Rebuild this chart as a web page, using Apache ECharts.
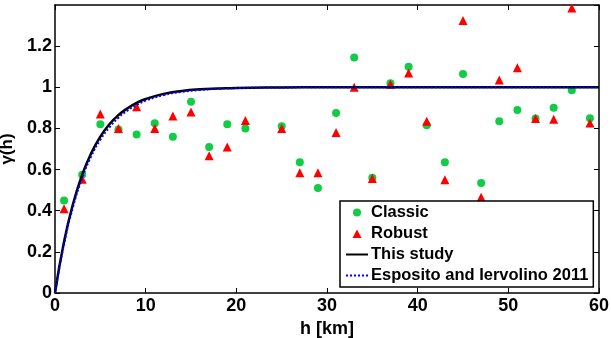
<!DOCTYPE html>
<html>
<head>
<meta charset="utf-8">
<script src="https://cdn.jsdelivr.net/npm/echarts@6/dist/echarts.min.js"></script>
<style>
  html, body { margin: 0; padding: 0; background: #fff; }
  #chart { width: 611px; height: 338px; }
</style>
</head>
<body>
<div id="chart"></div>
<script>
// lag distances of the empirical points
const lags = [1, 3, 5, 7, 9, 11, 13, 15, 17, 19, 21, 25, 27, 29, 31, 33, 35, 37, 39, 41, 43, 45, 47, 49, 51, 53, 55, 57, 59];
const classic = [0.45, 0.575, 0.82, 0.795, 0.77, 0.825, 0.76, 0.93, 0.71, 0.82, 0.80, 0.81, 0.635, 0.51, 0.875, 1.145, 0.56, 1.02, 1.10, 0.815, 0.635, 1.065, 0.535, 0.835, 0.89, 0.848, 0.90, 0.985, 0.85];
const robust = [0.41, 0.553, 0.87, 0.80, 0.905, 0.80, 0.86, 0.88, 0.667, 0.71, 0.838, 0.80, 0.585, 0.585, 0.78, 1.0, 0.556, 1.015, 1.07, 0.835, 0.55, 1.325, 0.466, 1.035, 1.095, 0.848, 0.845, 1.385, 0.826];

// model curves
const curveH = [0, 1, 2, 3, 4, 5, 6, 7, 8, 9, 10, 12, 14, 16, 18, 20, 25, 30, 40, 50, 60];
const thisStudy = [0, 0.25, 0.435, 0.575, 0.68, 0.76, 0.82, 0.865, 0.898, 0.924, 0.943, 0.968, 0.982, 0.99, 0.994, 0.997, 0.999, 1, 1, 1, 1];
const esposito = [0, 0.239, 0.42, 0.559, 0.665, 0.745, 0.805, 0.852, 0.887, 0.914, 0.935, 0.962, 0.978, 0.987, 0.993, 0.996, 0.999, 1, 1, 1, 1];

const font = "Liberation Sans, Arial, sans-serif";
const pair = (xs, ys) => xs.map((x, i) => [x, ys[i]]);

const chart = echarts.init(document.getElementById("chart"));

const axisLine = { show: true, onZero: false, lineStyle: { color: "#000", width: 1.5 } };
const tick = { show: true, inside: true, length: 5, lineStyle: { color: "#000", width: 1 } };
const label = { color: "#000", fontFamily: font, fontWeight: "bold", fontSize: 18 };

chart.setOption({
  animation: false,
  grid: { left: 55, right: 12, top: 5, bottom: 45, outerBoundsMode: "none", containLabel: false },
  xAxis: [
    {
      type: "value", min: 0, max: 60, interval: 10,
      name: "h [km]", nameLocation: "middle", nameGap: 21,
      nameTextStyle: label,
      axisLine, axisTick: tick, splitLine: { show: false },
      axisLabel: Object.assign({ margin: 4 }, label)
    },
    {
      type: "value", position: "top", min: 0, max: 60, interval: 10,
      axisLine, axisTick: tick, splitLine: { show: false },
      axisLabel: { show: false }
    }
  ],
  yAxis: [
    {
      type: "value", min: 0, max: 1.4, interval: 0.2,
      name: "γ(h)", nameLocation: "middle", nameGap: 31,
      nameTextStyle: Object.assign({}, label, { fontSize: 17 }),
      axisLine, axisTick: tick, splitLine: { show: false },
      axisLabel: Object.assign({ margin: 3, showMaxLabel: false }, label)
    },
    {
      type: "value", position: "right", min: 0, max: 1.4, interval: 0.2,
      axisLine, axisTick: tick, splitLine: { show: false },
      axisLabel: { show: false }
    }
  ],
  legend: {
    orient: "vertical",
    left: 340, top: 201,
    padding: [3, 5, 3, 5],
    itemGap: 4,
    itemWidth: 22, itemHeight: 10,
    backgroundColor: "#fff",
    borderColor: "#000", borderWidth: 1.5,
    textStyle: { color: "#000", fontFamily: font, fontWeight: "bold", fontSize: 16.5, padding: [0, 0, 0, -2] },
    data: [
      { name: "Classic", icon: "path://M0,0 M22,0 M22,10 M0,10 M11,1 A4,4 0 1,1 11,9 A4,4 0 1,1 11,1 Z", itemStyle: { color: "#11cc44" } },
      { name: "Robust", icon: "path://M0,0 M22,0 M22,10 M0,10 M11,1 L15.5,9.5 L6.5,9.5 Z", itemStyle: { color: "#ff0000" } },
      { name: "This study", itemStyle: { opacity: 0 } },
      { name: "Esposito and Iervolino 2011", itemStyle: { opacity: 0 } }
    ]
  },
  series: [
    {
      name: "Classic", type: "scatter", symbol: "circle", symbolSize: 8,
      itemStyle: { color: "#11cc44", opacity: 1 },
      data: pair(lags, classic)
    },
    {
      name: "Robust", type: "scatter", symbol: "triangle", symbolSize: 9,
      itemStyle: { color: "#ff0000", opacity: 1 },
      data: pair(lags, robust)
    },
    {
      name: "This study", type: "line", smooth: true, showSymbol: false, symbol: "none",
      lineStyle: { color: "#000", width: 2.5 },
      itemStyle: { color: "#000" },
      data: pair(curveH, thisStudy)
    },
    {
      name: "Esposito and Iervolino 2011", type: "line", smooth: true, showSymbol: false, symbol: "none",
      lineStyle: { color: "#0000ff", width: 2, type: [2, 2] },
      itemStyle: { color: "#0000ff" },
      data: pair(curveH, esposito)
    }
  ]
});
</script>
</body>
</html>
